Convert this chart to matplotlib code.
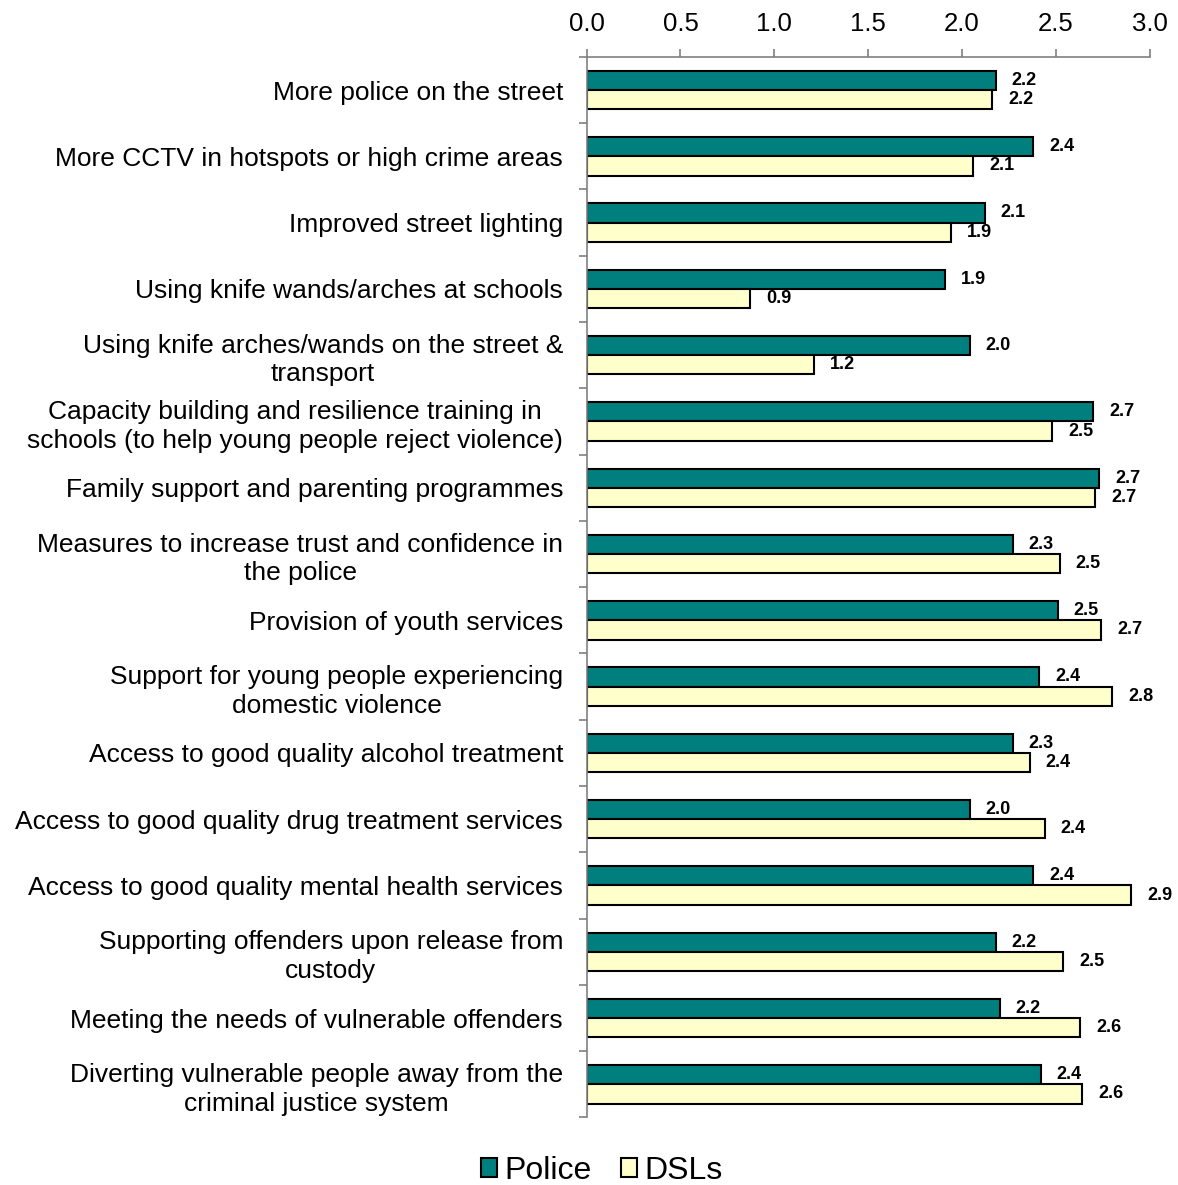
import numpy as np
import matplotlib.pyplot as plt

plt.rcParams['font.family'] = ['Liberation Sans', 'DejaVu Sans']

categories = [
    'More police on the street',
    'More CCTV in hotspots or high crime areas',
    'Improved street lighting',
    'Using knife wands/arches at schools',
    'Using knife arches/wands on the street &\ntransport',
    'Capacity building and resilience training in\nschools (to help young people reject violence)',
    'Family support and parenting programmes',
    'Measures to increase trust and confidence in\nthe police',
    'Provision of youth services',
    'Support for young people experiencing\ndomestic violence',
    'Access to good quality alcohol treatment',
    'Access to good quality drug treatment services',
    'Access to good quality mental health services',
    'Supporting offenders upon release from\ncustody',
    'Meeting the needs of vulnerable offenders',
    'Diverting vulnerable people away from the\ncriminal justice system',
]
police = [2.18, 2.38, 2.12, 1.91, 2.04, 2.70, 2.73, 2.27, 2.51, 2.41, 2.27, 2.04, 2.38, 2.18, 2.20, 2.42]
dsls = [2.16, 2.06, 1.94, 0.87, 1.21, 2.48, 2.71, 2.52, 2.74, 2.80, 2.36, 2.44, 2.90, 2.54, 2.63, 2.64]

fig = plt.figure(figsize=(11.78, 11.85), dpi=100)
ax = fig.add_axes([0.498, 0.057, 0.478, 0.895])

y = np.arange(len(categories))
h = 0.29
ax.barh(y - h / 2, police, height=h, color='#007F7F', edgecolor='black', linewidth=1.5, label='Police')
ax.barh(y + h / 2, dsls, height=h, color='#FFFFCC', edgecolor='black', linewidth=1.5, label='DSLs')

for yi, p, d in zip(y, police, dsls):
    ax.text(p + 0.085, yi - h / 2, f'{p:.1f}', va='center', ha='left', fontsize=13, fontweight='bold')
    ax.text(d + 0.085, yi + h / 2, f'{d:.1f}', va='center', ha='left', fontsize=13, fontweight='bold')

ax.set_xlim(0, 3.0)
ax.set_ylim(len(categories) - 0.5, -0.5)
ax.set_xticks(np.arange(0, 3.01, 0.5))
ax.set_xticklabels([f'{v:.1f}' for v in np.arange(0, 3.01, 0.5)], fontsize=18.5)
ax.xaxis.tick_top()
ax.tick_params(axis='x', colors='#808080', labelcolor='black', length=6, width=1.2, pad=9)

# category labels sit between the left tick marks
ax.set_yticks(np.arange(-0.5, len(categories), 1.0))
ax.set_yticklabels([])
ax.set_yticks(y, minor=True)
ax.set_yticklabels(categories, minor=True, fontsize=19, ha='right', multialignment='center',
                   linespacing=1.25)
ax.tick_params(axis='y', which='major', colors='#808080', length=6, width=1.2)
ax.tick_params(axis='y', which='minor', length=0, pad=17)

for s in ['right', 'bottom']:
    ax.spines[s].set_visible(False)
for s in ['top', 'left']:
    ax.spines[s].set_color('#808080')
    ax.spines[s].set_linewidth(1.2)

fig.legend(loc='lower center', bbox_to_anchor=(0.511, -0.025), ncol=2, frameon=False,
           fontsize=23, handlelength=0.5, handleheight=0.5, handletextpad=0.25, columnspacing=0.9)

fig.savefig('out.png', dpi=100)
